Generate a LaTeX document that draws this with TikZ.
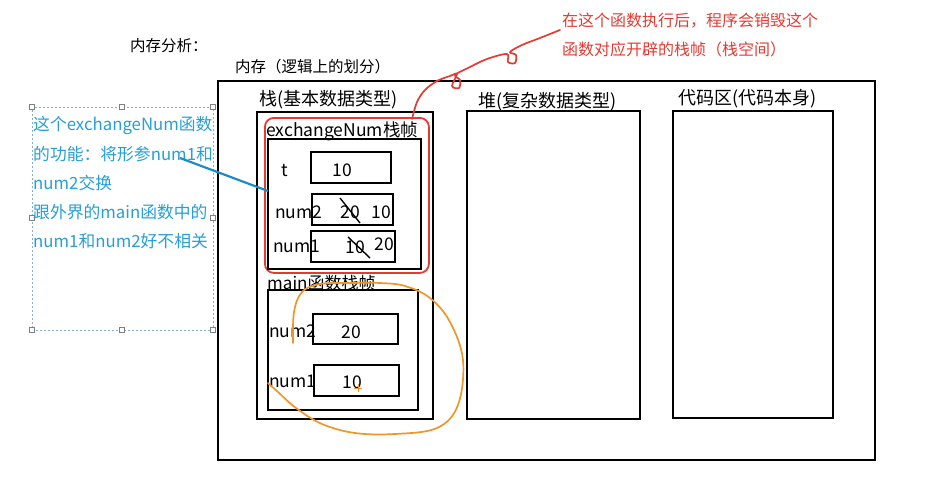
\documentclass[tikz,border=0pt]{standalone}
\usepackage{fontspec}
\setmainfont{Noto Sans CJK SC}
\usetikzlibrary{calc}
\definecolor{redann}{RGB}{228,58,50}
\definecolor{blueann}{RGB}{38,158,214}
\definecolor{blueline}{RGB}{28,140,200}
\definecolor{orangeann}{RGB}{240,150,40}
\definecolor{dotblue}{RGB}{130,175,210}
\begin{document}
\begin{tikzpicture}[x=1pt,y=-1pt,
  box/.style={draw=black, line width=2.2pt, inner sep=0pt, outer sep=0pt, anchor=north west},
  lbl/.style={inner sep=0pt, anchor=west, font=\fontsize{17.5}{20}\selectfont},
  val/.style={inner sep=0pt, font=\fontsize{17.5}{20}\selectfont},
  handle/.style={draw=gray, fill=white, line width=0.6pt, minimum size=4.5pt, inner sep=0pt},
  strike/.style={draw=black, line width=1.4pt},
]
\useasboundingbox (0,0) rectangle (942,498);
% titles
\node[lbl, font=\fontsize{15.5}{18}\selectfont] (title) at (130,46) {内存分析：};
\node[lbl, font=\fontsize{15.5}{18}\selectfont] (memt) at (235,67) {内存（逻辑上的划分）};
% outer memory
\node[box, minimum width=657pt, minimum height=379pt] (mem) at (218,81) {};
% stack / heap / code
\node[box, minimum width=176pt, minimum height=307pt] (stack) at (257,112) {};
\node[box, minimum width=173pt, minimum height=308pt] (heap) at (467,111) {};
\node[box, minimum width=160pt, minimum height=307pt] (code) at (673,111) {};
\node[lbl, font=\fontsize{18}{20}\selectfont] (stackt) at (259,100) {栈(基本数据类型)};
\node[lbl, font=\fontsize{18}{20}\selectfont] (heapt) at (478,102) {堆(复杂数据类型)};
\node[lbl, font=\fontsize{18}{20}\selectfont] (codet) at (678,99) {代码区(代码本身)};
% exchangeNum frame
\node[draw=redann, line width=1.8pt, rounded corners=9pt, minimum width=164pt, minimum height=155pt, anchor=north west, inner sep=0pt] (redf) at (264,117) {};
\node[lbl] (ext) at (266,131) {exchangeNum栈帧};
\node[box, minimum width=153pt, minimum height=130pt] (exf) at (268,139) {};
\node[lbl] (tl) at (281,171) {t};
\node[box, minimum width=80pt, minimum height=31pt] (tb) at (311,152) {};
\node[val] (tv) at (342,170) {10};
\node[box, minimum width=81pt, minimum height=31pt] (n2b) at (312,194) {};
\node[lbl] (n2l) at (275,212) {num2};
\node[val] (n2old) at (350,212) {20};
\node[val] (n2new) at (381,212) {10};
\node[box, minimum width=84pt, minimum height=31pt] (n1b) at (311,231) {};
\node[lbl] (n1l) at (273,246) {num1};
\node[val] (n1old) at (355,247) {10};
\node[val] (n1new) at (384,244) {20};
\draw[strike] (340,198) -- (360,223);
\draw[strike] (348,237) -- (370,258);
% main frame
\node[lbl, font=\fontsize{17}{20}\selectfont] (mt) at (267,283) {main函数栈帧};
\node[box, minimum width=150pt, minimum height=120pt] (mf) at (268,290) {};
\node[box, minimum width=85pt, minimum height=30pt] (m2b) at (313,314) {};
\node[lbl] (m2l) at (269,331) {num2};
\node[val] (m2v) at (351,332) {20};
\node[box, minimum width=85pt, minimum height=31pt] (m1b) at (314,365) {};
\node[lbl] (m1l) at (269,381) {num1};
\node[val] (m1v) at (352,382) {10};
% blue note
\node[draw=dotblue, dash pattern=on 2pt off 2pt, line width=0.9pt, minimum width=181pt, minimum height=223pt, anchor=north west, inner sep=0pt] (bluebox) at (32,107) {};
\foreach \p/\n in {{(32,107)}/h1,{(122,107)}/h2,{(213,107)}/h3,{(32,218)}/h4,{(213,218)}/h5,{(32,330)}/h6,{(122,330)}/h7,{(213,330)}/h8}
  \node[handle] (\n) at \p {};
\begin{scope}[every node/.style={lbl, text=blueann, font=\fontsize{16.8}{20}\selectfont}]
\node (bt1) at (33,125) {这个exchangeNum函数};
\node (bt2) at (33,154) {的功能：将形参num1和};
\node (bt3) at (33,183) {num2交换};
\node (bt4) at (33,212) {跟外界的main函数中的};
\node (bt5) at (33,241) {num1和num2好不相关};
\end{scope}
\coordinate (bls) at (180,158);
\coordinate (ble) at ($(exf.north west)!0.4!(exf.south west)$);
\draw[blueline, line width=2.2pt] (bls) -- (ble);
% red note
\node[lbl, font=\fontsize{16}{18}\selectfont, text=redann] (rt1) at (562,21) {在这个函数执行后，程序会销毁这个};
\node[lbl, font=\fontsize{16}{18}\selectfont, text=redann] (rt2) at (562,49) {函数对应开辟的栈帧（栈空间）};
\coordinate (rs) at (412,119);
\coordinate (re) at (560,30);
\draw[redann, line width=1.7pt, line cap=round, line join=round] plot[smooth, tension=0.55] coordinates {
 (rs) (417,102) (425,90) (437,81) (450,76) (457,74) (452,86) (459,88) (460,80) (455,75)
 (468,68) (487,59) (507,54) (508,62) (515,63) (516,55) (510,52) (522,45) (540,38) (555,32) (re)};
% orange loop
\draw[orangeann, line width=1.7pt, line cap=round] plot[smooth, tension=0.6] coordinates {
 (293,343) (294,312) (302,292) (320,284) (350,283) (380,283) (405,286) (430,298) (450,322) (463,360)
 (458,405) (437,428) (395,434) (355,433) (322,424) (296,408) (278,392) (268,383)};
\draw[orangeann, line width=1pt] (354,388) -- (362,388) (358,384) -- (358,392);
\end{tikzpicture}
\end{document}
